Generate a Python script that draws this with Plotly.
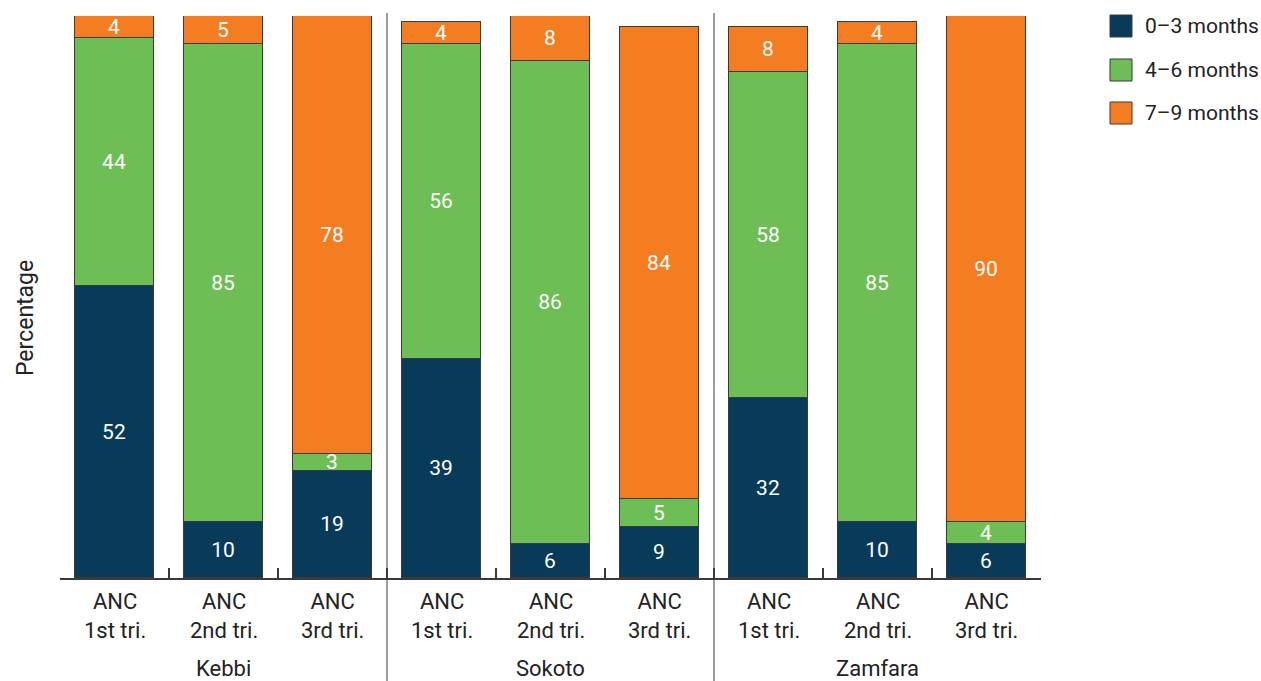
import plotly.graph_objects as go

# Data: share of women (%) by gestational age at visit, per ANC timing and state
states = ["Kebbi", "Sokoto", "Zamfara"]
anc_labels = ["ANC<br>1st tri.", "ANC<br>2nd tri.", "ANC<br>3rd tri."]
series_names = ["0\u20133 months", "4\u20136 months", "7\u20139 months"]

m0_3 = [52, 10, 19, 39, 6, 9, 32, 10, 6]
m4_6 = [44, 85, 3, 56, 86, 5, 58, 85, 4]
m7_9 = [4, 5, 78, 4, 8, 84, 8, 4, 90]

colors = ["#083A5A", "#6DBE55", "#F47D22"]
outline = "#3A3A3A"
text_dark = "#222222"
FONT = "Roboto"

W, H = 1261, 681
ML, MR, MT, MB = 60, 220, 16, 103
PW, PH = W - ML - MR, H - MT - MB


def px_x(x):
    return (x - ML) / PW


def px_y(y):
    return (H - MB - y) / PH


n = len(m0_3)
xs = list(range(n))

fig = go.Figure()
for name, vals, col in zip(series_names, [m0_3, m4_6, m7_9], colors):
    fig.add_trace(go.Bar(
        x=xs, y=vals, name=name, width=0.716,
        marker=dict(color=col, line=dict(color=outline, width=1)),
        text=vals, texttemplate="%{text}", textposition="inside",
        insidetextanchor="middle", textangle=0, cliponaxis=False,
        textfont=dict(color="white", size=21, family=FONT),
        showlegend=False, hoverinfo="skip",
    ))

annotations = []
# Category labels under each bar
for i in xs:
    annotations.append(dict(
        x=i, xref="x", y=px_y(616), yref="paper", text=anc_labels[i % 3],
        showarrow=False, xanchor="center", yanchor="middle",
        font=dict(size=22, color=text_dark, family=FONT),
    ))
# State labels under each group
for g, s in enumerate(states):
    annotations.append(dict(
        x=g * 3 + 1, xref="x", y=px_y(668), yref="paper", text=s,
        showarrow=False, xanchor="center", yanchor="middle",
        font=dict(size=22, color=text_dark, family=FONT),
    ))
# Y-axis title
annotations.append(dict(
    x=px_x(26), xref="paper", y=px_y(318), yref="paper", text="Percentage",
    showarrow=False, textangle=-90, xanchor="center", yanchor="middle",
    font=dict(size=23, color=text_dark, family=FONT),
))

shapes = []
# Group separators
for xv in [2.5, 5.5]:
    shapes.append(dict(
        type="line", xref="x", x0=xv, x1=xv, yref="paper",
        y0=px_y(H), y1=px_y(13), line=dict(color=outline, width=1),
    ))

# Legend drawn as boxes with labels
leg_y = [26, 70, 113]
for name, col, yc in zip(series_names, colors, leg_y):
    shapes.append(dict(
        type="rect", xref="paper", yref="paper",
        x0=px_x(1110), x1=px_x(1132), y0=px_y(yc + 11), y1=px_y(yc - 11),
        fillcolor=col, line=dict(color=outline, width=1),
    ))
    annotations.append(dict(
        x=px_x(1143), xref="paper", y=px_y(yc), yref="paper", text=name,
        showarrow=False, xanchor="left", yanchor="middle",
        font=dict(size=21, color=text_dark, family=FONT),
    ))

fig.update_layout(
    width=W, height=H,
    margin=dict(l=ML, r=MR, t=MT, b=MB),
    barmode="stack", bargap=0,
    plot_bgcolor="white", paper_bgcolor="white",
    font=dict(family=FONT, color=text_dark),
    shapes=shapes, annotations=annotations,
    xaxis=dict(
        range=[-0.5, n - 0.5], tickmode="array",
        tickvals=[i + 0.5 for i in range(n)], ticktext=[""] * n,
        ticks="inside", ticklen=10, tickwidth=2, tickcolor=outline,
        showline=True, linecolor=outline, linewidth=2,
        showgrid=False, zeroline=False, fixedrange=True,
    ),
    yaxis=dict(
        range=[0, 100], showticklabels=False, ticks="",
        showline=False, showgrid=False, zeroline=False, fixedrange=True,
    ),
    uniformtext=dict(minsize=21, mode="show"),
)

fig.write_html("out.html")
